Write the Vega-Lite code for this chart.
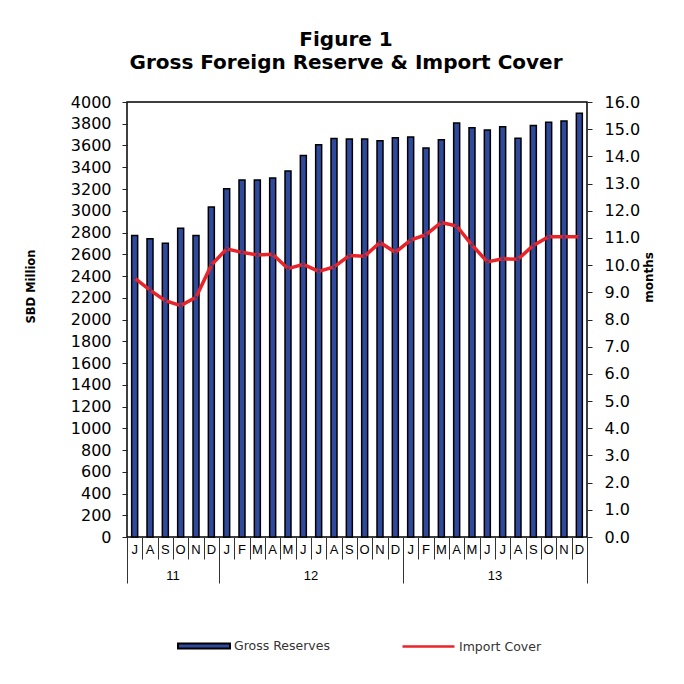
{
  "$schema": "https://vega.github.io/schema/vega-lite/v6.json",
  "width": 460,
  "height": 435,
  "autosize": "none",
  "padding": {"left": 127, "top": 102, "right": 97, "bottom": 147},
  "background": "white",
  "config": {
    "view": {"stroke": "black", "strokeWidth": 1.5},
    "axis": {"labelFont": "DejaVu Sans", "titleFont": "DejaVu Sans", "labelColor": "black", "titleColor": "black", "tickColor": "#222", "domainColor": "black"},
    "legend": {"labelFont": "DejaVu Sans", "labelFontSize": 12.5, "labelColor": "#333", "padding": 0, "labelOffset": 3}
  },
  "title": {
    "text": ["Figure 1", "Gross Foreign Reserve & Import Cover"],
    "font": "DejaVu Sans",
    "fontSize": 20,
    "fontWeight": "bold",
    "lineHeight": 23.5,
    "anchor": "middle",
    "dx": -11,
    "offset": 21,
    "color": "black"
  },
  "data": {
    "values": [
      {"month": "2011-07", "reserves": 2772, "cover": 9.52},
      {"month": "2011-08", "reserves": 2742, "cover": 9.08},
      {"month": "2011-09", "reserves": 2702, "cover": 8.69},
      {"month": "2011-10", "reserves": 2840, "cover": 8.51},
      {"month": "2011-11", "reserves": 2772, "cover": 8.82},
      {"month": "2011-12", "reserves": 3034, "cover": 10.0},
      {"month": "2012-01", "reserves": 3203, "cover": 10.6},
      {"month": "2012-02", "reserves": 3283, "cover": 10.47},
      {"month": "2012-03", "reserves": 3283, "cover": 10.37},
      {"month": "2012-04", "reserves": 3302, "cover": 10.4},
      {"month": "2012-05", "reserves": 3366, "cover": 9.87},
      {"month": "2012-06", "reserves": 3508, "cover": 10.03},
      {"month": "2012-07", "reserves": 3606, "cover": 9.77},
      {"month": "2012-08", "reserves": 3665, "cover": 9.93},
      {"month": "2012-09", "reserves": 3660, "cover": 10.35},
      {"month": "2012-10", "reserves": 3660, "cover": 10.33},
      {"month": "2012-11", "reserves": 3644, "cover": 10.83},
      {"month": "2012-12", "reserves": 3672, "cover": 10.47},
      {"month": "2013-01", "reserves": 3678, "cover": 10.92},
      {"month": "2013-02", "reserves": 3577, "cover": 11.12},
      {"month": "2013-03", "reserves": 3653, "cover": 11.57},
      {"month": "2013-04", "reserves": 3807, "cover": 11.44},
      {"month": "2013-05", "reserves": 3764, "cover": 10.74},
      {"month": "2013-06", "reserves": 3742, "cover": 10.12},
      {"month": "2013-07", "reserves": 3773, "cover": 10.23},
      {"month": "2013-08", "reserves": 3666, "cover": 10.22},
      {"month": "2013-09", "reserves": 3785, "cover": 10.72},
      {"month": "2013-10", "reserves": 3813, "cover": 11.04},
      {"month": "2013-11", "reserves": 3825, "cover": 11.04},
      {"month": "2013-12", "reserves": 3896, "cover": 11.04}
    ]
  },
  "layer": [
    {
      "mark": {"type": "bar", "size": 6, "stroke": "black", "strokeWidth": 1.5},
      "encoding": {
        "x": {
          "field": "month", "type": "ordinal",
          "scale": {"paddingInner": 0, "paddingOuter": 0},
          "axis": {
            "orient": "bottom", "title": null, "ticks": false, "domain": false,
            "labelAngle": 0, "labelFont": "Liberation Sans", "labelFontSize": 13, "labelPadding": 6,
            "labelExpr": "substring('JFMAMJJASOND', toNumber(slice(datum.value, 5)) - 1, toNumber(slice(datum.value, 5)))"
          }
        },
        "y": {
          "field": "reserves", "type": "quantitative",
          "scale": {"domain": [0, 4000], "nice": false},
          "axis": {
            "orient": "left", "grid": false, "domain": false, "format": "d",
            "values": [0,200,400,600,800,1000,1200,1400,1600,1800,2000,2200,2400,2600,2800,3000,3200,3400,3600,3800,4000],
            "labelOverlap": false, "labelFontSize": 16, "tickSize": 5, "labelPadding": 11,
            "title": "SBD Million", "titleFontSize": 11.5, "titleFontWeight": "bold",
            "titleX": -91, "titleY": 184, "titleAngle": 270
          }
        },
        "fill": {
          "datum": "Gross Reserves", "type": "nominal",
          "scale": {"domain": ["Gross Reserves"], "range": ["#2F4A9C"]},
          "legend": {
            "orient": "none", "legendX": 50, "legendY": 517, "title": null,
            "symbolType": "M-1,-0.1H1V0.1H-1Z", "symbolSize": 2700,
            "symbolStrokeColor": "black", "symbolStrokeWidth": 2, "symbolFillColor": "#2F4A9C", "symbolOpacity": 1
          }
        }
      }
    },
    {
      "mark": {"type": "line", "strokeWidth": 3.5},
      "encoding": {
        "x": {
          "field": "month", "type": "ordinal",
          "axis": {
            "orient": "bottom", "title": null, "labels": false, "domain": false,
            "tickBand": "extent", "tickColor": "#333", "tickWidth": 1,
            "tickSize": {"condition": {"test": "datum.extra || datum.value === '2011-12' || datum.value === '2012-12' || datum.value === '2013-12'", "value": 46}, "value": 22}
          }
        },
        "y": {
          "field": "cover", "type": "quantitative",
          "scale": {"domain": [0, 16], "nice": false},
          "axis": {
            "orient": "right", "grid": false, "domain": false,
            "values": [0,1,2,3,4,5,6,7,8,9,10,11,12,13,14,15,16], "format": ".1f",
            "labelOverlap": false, "labelFontSize": 16, "tickSize": 5, "labelPadding": 12,
            "title": "months", "titleFontSize": 12, "titleFontWeight": "bold",
            "titleX": 68, "titleY": 175, "titleAngle": 270
          }
        },
        "stroke": {
          "datum": "Import Cover", "type": "nominal",
          "scale": {"domain": ["Import Cover"], "range": ["#E8242A"]},
          "legend": {
            "orient": "none", "legendX": 274, "legendY": 517, "title": null,
            "symbolType": "stroke", "symbolSize": 2700, "symbolStrokeWidth": 2.5, "symbolOpacity": 1
          }
        }
      }
    },
    {
      "mark": {"type": "point", "filled": true, "size": 8, "color": "#3b3f8f", "opacity": 1},
      "encoding": {
        "x": {
          "field": "month", "type": "ordinal",
          "axis": {
            "orient": "bottom", "title": null, "ticks": false, "domain": false,
            "labelAngle": 0, "labelFont": "Liberation Sans", "labelFontSize": 13, "labelPadding": 32,
            "labelOffset": -7.667,
            "labelExpr": "datum.value === '2011-10' ? '11' : datum.value === '2012-07' ? '12' : datum.value === '2013-07' ? '13' : ''"
          }
        },
        "y": {
          "field": "cover", "type": "quantitative",
          "scale": {"domain": [0, 16], "nice": false},
          "axis": null
        }
      }
    }
  ],
  "resolve": {"scale": {"y": "independent"}, "axis": {"x": "independent", "y": "independent"}}
}
